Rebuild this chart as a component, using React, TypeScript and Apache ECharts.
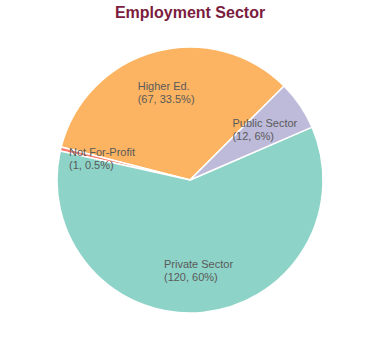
import React, { useEffect, useRef } from "react";
import * as echarts from "echarts";

const categories = ["Higher Ed.", "Not For-Profit", "Private Sector", "Public Sector"];
const counts = [67, 1, 120, 12];
const colors = ["#fdb462", "#fb8072", "#8dd3c7", "#bebada"];
const titleText = "Employment Sector";

export default function App() {
  const ref = useRef<HTMLDivElement>(null);
  useEffect(() => {
    document.body.style.margin = "0";
    const chart = echarts.init(ref.current!, null, { renderer: "svg" });
    const data = categories.map((name, i) => ({
      name,
      value: counts[i],
      itemStyle: { color: colors[i] },
    }));
    const overlayData = categories.map((name, i) => ({
      name,
      value: counts[i],
    }));
    chart.setOption({
      animation: false,
      title: {
        text: titleText,
        left: "center",
        top: 0,
        padding: [4, 0, 0, 0],
        textStyle: {
          color: "#7b1c3e",
          fontSize: 16,
          fontWeight: "bold",
          fontFamily: "Liberation Sans, Arial, sans-serif",
        },
      },
      series: [
        {
          type: "pie",
          center: [190, 180],
          radius: [0, 133],
          startAngle: 45,
          clockwise: false,
          data,
          label: { show: false },
          labelLine: { show: false },
          itemStyle: { borderColor: "#ffffff", borderWidth: 1.5 },
          silent: true,
        },
        {
          type: "pie",
          center: [190, 180],
          radius: [42, 133],
          startAngle: 45,
          clockwise: false,
          data: overlayData,
          silent: true,
          itemStyle: { color: "rgba(0,0,0,0)", borderWidth: 0 },
          labelLine: { show: false },
          label: {
            show: true,
            position: "inside",
            formatter: "{b}\n({c}, {d}%)",
            color: "#5a5a5a",
            fontSize: 11,
            lineHeight: 13,
            fontFamily: "Liberation Sans, Arial, sans-serif",
          },
          labelLayout: (params: any) => {
            const r = params.labelRect;
            return {
              x: r.x,
              y: r.y + r.height / 2,
              align: "left",
              verticalAlign: "middle",
            };
          },
        },
      ],
    });
    return () => chart.dispose();
  }, []);
  return <div ref={ref} style={{ width: 380, height: 360 }} />;
}
